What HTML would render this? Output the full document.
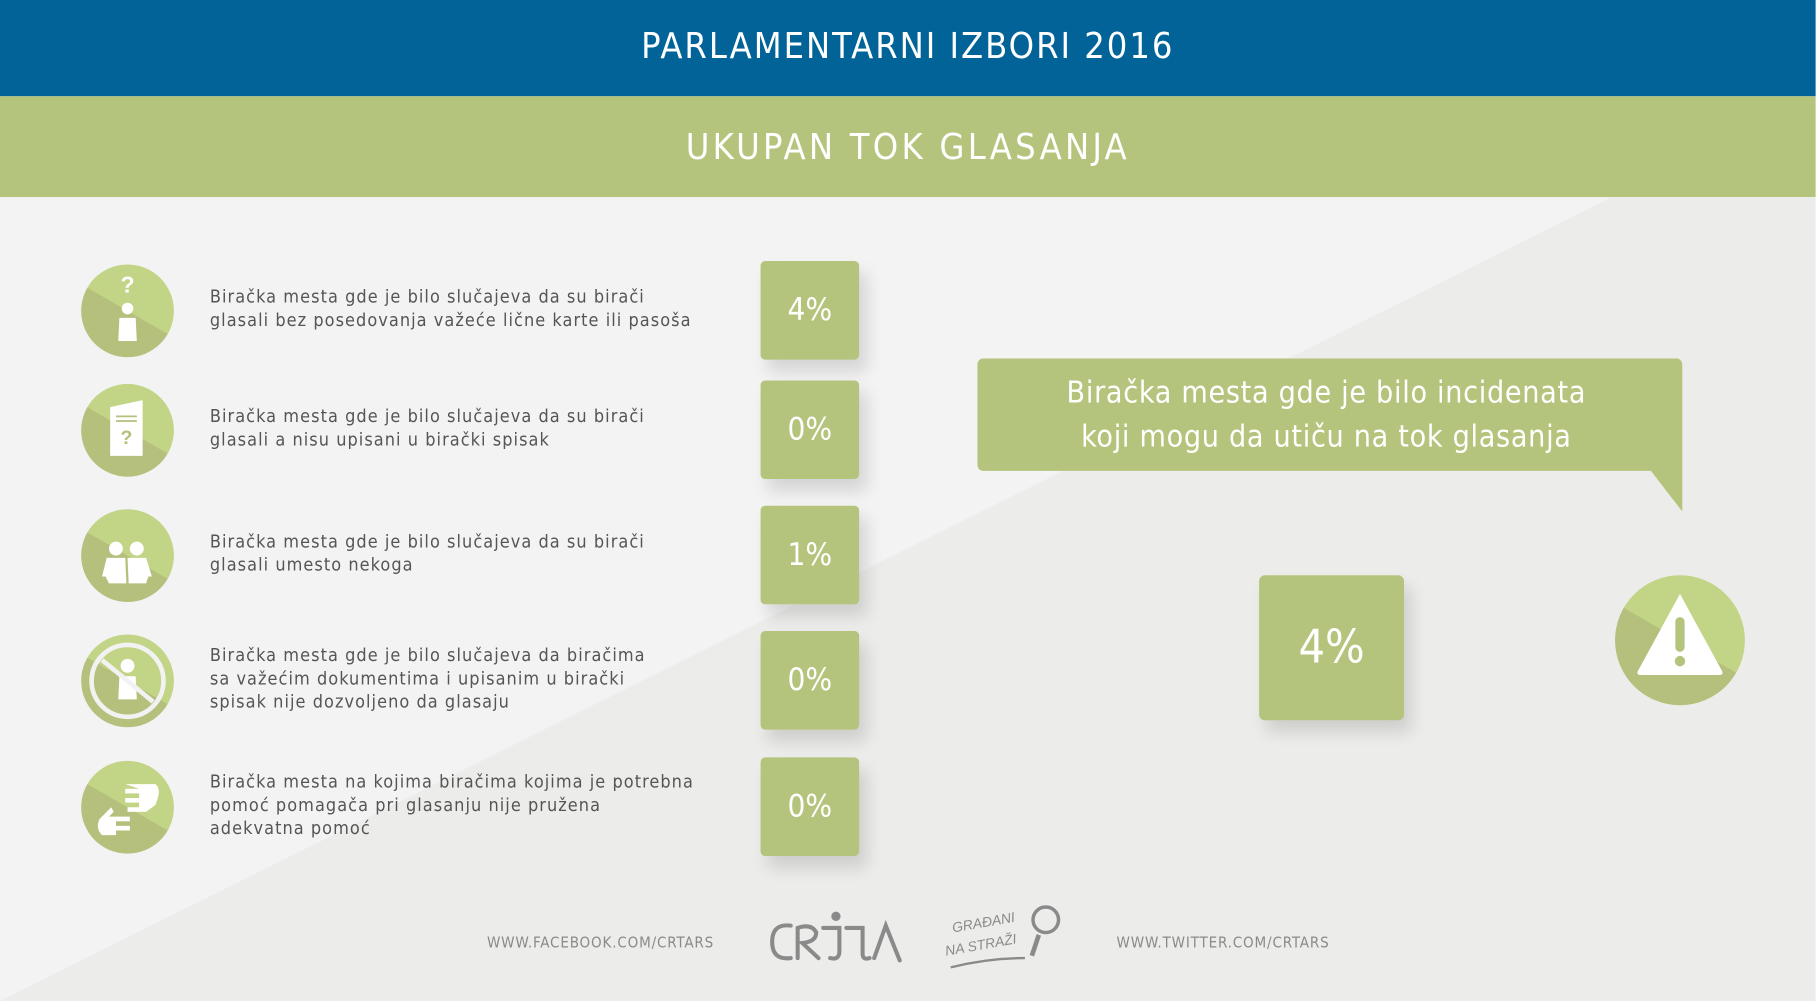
<!DOCTYPE html>
<html><head><meta charset="utf-8">
<style>
html,body{margin:0;padding:0;width:1818px;height:1001px;overflow:hidden;background:#fff;}
#stage{position:absolute;left:0;top:0;width:1568px;height:863px;transform:scale(1.1594,1.1599);transform-origin:0 0;font-family:"DejaVu Sans Condensed","Liberation Sans Narrow","Liberation Sans",sans-serif;overflow:hidden;}
.abs{position:absolute;}
#hdr{left:0;top:0;width:1566px;height:83px;background:#026399;color:#fff;font-size:31px;text-align:center;line-height:80px;letter-spacing:1.7px;}
#sub{left:0;top:83px;width:1566px;height:87px;background:#b5c47c;color:#fff;font-size:31px;text-align:center;line-height:88px;letter-spacing:2.8px;}
#body{left:0;top:170px;width:1566px;height:693px;background:#f3f3f3;}
.circ{width:80px;height:80px;border-radius:50%;background:linear-gradient(210deg,#c2d486 50%,#b5c07c 50%);}
.lbl{left:181px;font-size:15.5px;color:#555;line-height:20px;letter-spacing:0.9px;}
.box{width:85px;height:85px;background:#b5c47c;border-radius:4px;color:#fff;font-size:27px;text-align:center;line-height:85px;box-shadow:6px 10px 14px rgba(0,0,0,0.13);}
.foot{font-size:13px;color:#8a8a8a;letter-spacing:0.7px;top:806px;}
</style></head><body>
<div id="stage">
<div id="hdr" class="abs">PARLAMENTARNI IZBORI 2016</div>
<div id="sub" class="abs">UKUPAN TOK GLASANJA</div>
<div id="body" class="abs">
<svg width="1566" height="693" style="position:absolute;left:0;top:0"><polygon points="0,693 1390,0 1566,0 1566,693" fill="#ecedeb"/></svg>
</div>

<div id="rows"></div>

<svg class="abs" style="left:843px;top:309px" width="610" height="135">
<path d="M6,0 H602 Q608,0 608,6 V132 L581,97 H6 Q0,97 0,91 V6 Q0,0 6,0 Z" fill="#b5c47c"/>
</svg>
<div class="abs" style="left:843px;top:320px;width:602px;text-align:center;color:#fff;font-size:26px;line-height:38px;letter-spacing:0.6px">Biračka mesta gde je bilo incidenata<br>koji mogu da utiču na tok glasanja</div>
<div id="bigbox" class="abs box" style="left:1086px;top:496px;width:125px;height:125px;line-height:125px;font-size:40px;border-radius:5px"></div>
<div class="abs circ" style="left:1393px;top:496px;width:112px;height:112px">
<svg width="112" height="112"><path d="M56,16 L92,82 Q94,86 90,86 H22 Q18,86 20,82 Z" fill="#fff"/><rect x="52" y="36" width="8" height="30" rx="4" fill="#b5c47c"/><circle cx="56" cy="74" r="4.5" fill="#b5c47c"/></svg>
</div>

<div class="abs foot" style="left:420px">WWW.FACEBOOK.COM/CRTARS</div>
<div class="abs foot" style="left:963px">WWW.TWITTER.COM/CRTARS</div>
<svg class="abs" style="left:660px;top:782px" width="125" height="50">
<g fill="none" stroke="#8a8a8a" stroke-width="3.5" stroke-linecap="round">
<path d="M22,16 Q6,14 6,30 Q6,46 22,44"/>
<path d="M28,44 V18 Q40,14 44,22 Q44,30 32,31 L46,44"/>
<path d="M50,18 H64 V38 Q64,46 56,44"/>
<path d="M70,18 H84 V40 Q84,46 90,44"/>
<path d="M94,44 L104,16 L116,46"/>
</g><circle cx="61" cy="8" r="4" fill="#8a8a8a"/>
</svg>
<svg class="abs" style="left:812px;top:776px" width="110" height="62">
<text x="10" y="28" font-size="12" fill="#8a8a8a" transform="rotate(-10 10 28)" font-family="Liberation Sans Narrow,Liberation Sans,sans-serif" font-style="italic">GRAĐANI</text>
<text x="4" y="48" font-size="12" fill="#8a8a8a" transform="rotate(-10 4 48)" font-family="Liberation Sans Narrow,Liberation Sans,sans-serif" font-style="italic">NA STRAŽI</text>
<circle cx="90" cy="17" r="11" fill="none" stroke="#8a8a8a" stroke-width="3"/>
<path d="M84,30 L78,48" stroke="#8a8a8a" stroke-width="4"/>
<path d="M8,58 Q40,50 72,50" stroke="#8a8a8a" stroke-width="2" fill="none"/>
</svg>

<script>
const labels = [
 "Biračka mesta gde je bilo slučajeva da su birači<br>glasali bez posedovanja važeće lične karte ili pasoša",
 "Biračka mesta gde je bilo slučajeva da su birači<br>glasali a nisu upisani u birački spisak",
 "Biračka mesta gde je bilo slučajeva da su birači<br>glasali umesto nekoga",
 "Biračka mesta gde je bilo slučajeva da biračima<br>sa važećim dokumentima i upisanim u birački<br>spisak nije dozvoljeno da glasaju",
 "Biračka mesta na kojima biračima kojima je potrebna<br>pomoć pomagača pri glasanju nije pružena<br>adekvatna pomoć"
];
const values = [4, 0, 1, 0, 0];
const incidentValue = 4;
const rowCenters = [268, 371, 479, 587, 696];
const icons = [
 '<text x="40" y="24" font-size="20" font-weight="bold" fill="#fff" text-anchor="middle" font-family="Liberation Sans">?</text><circle cx="40" cy="38" r="5" fill="#fff"/><path d="M33,46 H47 L48,66 H32 Z" fill="#fff"/>',
 '<path d="M25,20 L53,14 V62 H25 Z" fill="#fff"/><line x1="30" y1="28" x2="48" y2="28" stroke="#b5c07c" stroke-width="1.5"/><line x1="30" y1="32" x2="48" y2="32" stroke="#b5c07c" stroke-width="1.5"/><text x="39" y="52" font-size="17" font-weight="bold" fill="#b5c07c" text-anchor="middle" font-family="Liberation Sans">?</text>',
 '<circle cx="30" cy="34" r="6" fill="#fff"/><circle cx="48" cy="34" r="6" fill="#fff"/><path d="M22,42 H38 L39,64 H24 L21,58 L18,58 Z" fill="#fff"/><path d="M40,42 H56 L61,58 L58,58 L56,64 H41 Z" fill="#fff"/>',
 '<circle cx="40" cy="40" r="31" fill="none" stroke="#f2f2f2" stroke-width="4"/><circle cx="40" cy="27" r="6" fill="#fff"/><path d="M33,36 H47 L48,56 H32 Z" fill="#fff"/><line x1="18" y1="22" x2="62" y2="58" stroke="#f2f2f2" stroke-width="4"/>',
 '<path d="M38,20 H64 Q70,24 64,38 L56,44 H40 V40 H50 V36 H38 V32 H50 V28 H38 V24 H50 Z" fill="#fff"/><path d="M40,64 H18 Q12,58 16,50 L26,40 L28,44 L24,48 H42 V52 H30 V56 H42 V60 H30 V64 Z" fill="#fff"/>'
];
const rows = document.getElementById('rows');
const names = ['no-valid-id','not-on-voter-list','voted-for-someone','not-allowed-to-vote','no-assistance'];
values.forEach((v, i) => {
  const cy = rowCenters[i];
  const c = document.createElement('div');
  c.className = 'abs circ';
  c.style.left = '70px'; c.style.top = (cy - 40) + 'px';
  c.innerHTML = '<svg width="80" height="80">' + icons[i] + '</svg>';
  
  
  rows.appendChild(c);
  const t = document.createElement('div');
  t.className = 'abs lbl';
  const nl = labels[i].split('<br>').length;
  t.style.top = (cy - nl * 10 - 2) + 'px';
  t.innerHTML = labels[i];
  
  
  rows.appendChild(t);
  const b = document.createElement('div');
  b.className = 'abs box';
  b.style.left = '656px'; b.style.top = (cy - 43) + 'px';
  b.textContent = v + '%';
  
  
  rows.appendChild(b);
});
document.getElementById('bigbox').textContent = incidentValue + '%';
</script>
</div>
</body></html>
